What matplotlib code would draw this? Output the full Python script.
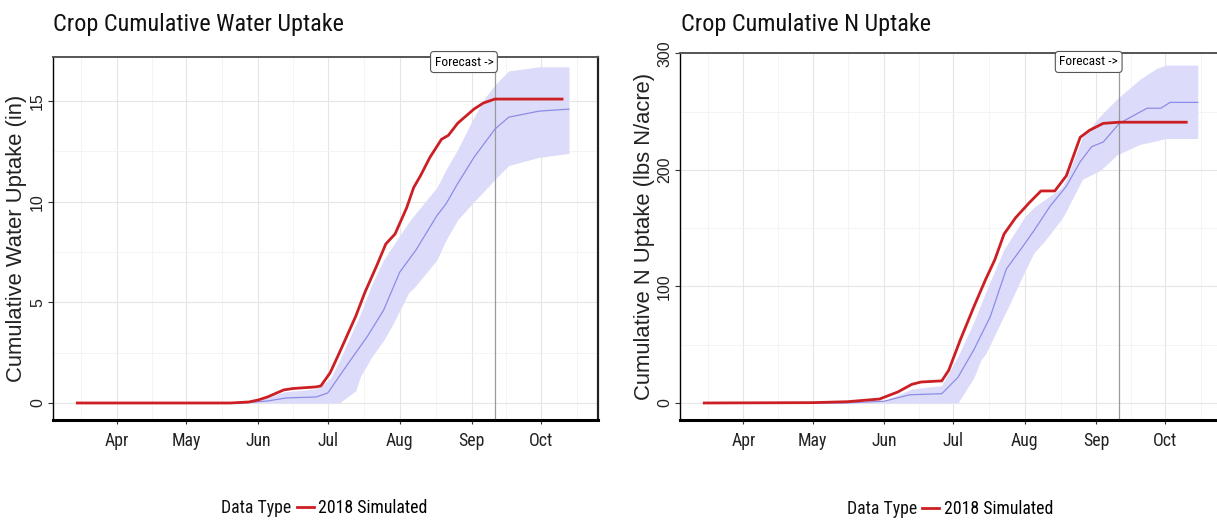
import matplotlib
matplotlib.use('Agg')
import matplotlib.pyplot as plt
import matplotlib.dates as mdates
from matplotlib import font_manager as fm
import pandas as pd

# ---- water uptake (in) ----
water_sim_dates = ['2018-03-15', '2018-05-20', '2018-05-28', '2018-06-01', '2018-06-05',
                   '2018-06-12', '2018-06-16', '2018-06-26', '2018-06-28', '2018-07-02',
                   '2018-07-06', '2018-07-13', '2018-07-17', '2018-07-22', '2018-07-26',
                   '2018-07-30', '2018-08-04', '2018-08-07', '2018-08-10', '2018-08-14',
                   '2018-08-19', '2018-08-22', '2018-08-26', '2018-09-02', '2018-09-06',
                   '2018-09-11', '2018-10-10']
water_sim = [0, 0, 0.05, 0.15, 0.3, 0.65, 0.72, 0.8, 0.85, 1.5, 2.5, 4.3, 5.5, 6.8, 7.9,
             8.4, 9.7, 10.7, 11.3, 12.2, 13.1, 13.3, 13.9, 14.6, 14.9, 15.1, 15.1]

water_mean_dates = ['2018-03-15', '2018-05-25', '2018-06-05', '2018-06-13', '2018-06-26',
                    '2018-07-01', '2018-07-10', '2018-07-18', '2018-07-25', '2018-08-01',
                    '2018-08-08', '2018-08-17', '2018-08-21', '2018-08-26', '2018-09-02',
                    '2018-09-11', '2018-09-17', '2018-09-30', '2018-10-13']
water_mean = [0, 0, 0.1, 0.25, 0.3, 0.5, 2.0, 3.3, 4.6, 6.5, 7.6, 9.3, 9.9, 10.9, 12.2,
              13.6, 14.2, 14.5, 14.6]

water_band_dates = ['2018-03-15', '2018-05-25', '2018-06-01', '2018-06-12', '2018-06-26',
                    '2018-07-02', '2018-07-06', '2018-07-13', '2018-07-15', '2018-07-20',
                    '2018-07-25', '2018-07-29', '2018-08-05', '2018-08-07', '2018-08-17',
                    '2018-08-21', '2018-08-26', '2018-09-02', '2018-09-07', '2018-09-11',
                    '2018-09-17', '2018-09-30', '2018-10-13']
water_lo = [0, 0, 0, 0, 0, 0, 0, 0.6, 1.3, 2.3, 3.1, 3.9, 5.5, 5.7, 7.1, 8.1, 9.1, 10.0,
            10.6, 11.1, 11.8, 12.2, 12.4]
water_hi = [0, 0, 0.1, 0.55, 0.7, 1.2, 2.1, 3.9, 4.4, 5.9, 7.1, 7.8, 9.0, 9.3, 10.7, 11.6,
            12.6, 14.2, 15.2, 15.8, 16.5, 16.7, 16.7]

# ---- N uptake (lbs N/acre) ----
n_sim_dates = ['2018-03-15', '2018-05-01', '2018-05-16', '2018-05-30', '2018-06-07',
               '2018-06-13', '2018-06-17', '2018-06-26', '2018-06-29', '2018-07-04',
               '2018-07-10', '2018-07-15', '2018-07-19', '2018-07-23', '2018-07-28',
               '2018-08-03', '2018-08-08', '2018-08-14', '2018-08-19', '2018-08-25',
               '2018-08-29', '2018-09-04', '2018-09-11', '2018-10-10']
n_sim = [0, 0.3, 1.1, 3.4, 9.5, 16, 18, 19, 28, 54, 83, 106, 123, 145, 159, 172, 182, 182,
         195, 228, 234, 240, 241, 241]

n_mean_dates = ['2018-03-15', '2018-05-15', '2018-06-01', '2018-06-12', '2018-06-26',
                '2018-07-03', '2018-07-10', '2018-07-17', '2018-07-24', '2018-07-31',
                '2018-08-05', '2018-08-12', '2018-08-19', '2018-08-25', '2018-08-30',
                '2018-09-04', '2018-09-11', '2018-09-23', '2018-09-29', '2018-10-03',
                '2018-10-15']
n_mean = [0, 0, 1.5, 7, 8, 22, 46, 74, 115, 134, 148, 169, 186, 207, 220, 224, 240, 253,
          253, 258, 258]

n_band_dates = ['2018-03-15', '2018-05-15', '2018-06-01', '2018-06-13', '2018-06-26',
                '2018-07-03', '2018-07-10', '2018-07-13', '2018-07-15', '2018-07-23',
                '2018-07-25', '2018-08-01', '2018-08-05', '2018-08-10', '2018-08-17',
                '2018-08-19', '2018-08-26', '2018-09-03', '2018-09-10', '2018-09-20',
                '2018-09-27', '2018-10-01', '2018-10-15']
n_lo = [0, 0, 0, 0, 0, 0, 22, 37, 42, 75, 83, 113, 129, 140, 158, 165, 192, 200, 213, 222,
        225, 227, 227]
n_hi = [0, 0, 2, 12, 15, 40, 70, 85, 95, 132, 138, 160, 168, 175, 185, 192, 228, 247, 261,
        278, 287, 290, 290]

forecast_date = '2018-09-11'
month_ticks = ['2018-04-01', '2018-05-01', '2018-06-01', '2018-07-01', '2018-08-01',
               '2018-09-01', '2018-10-01']
x_range = ['2018-03-04 12:00', '2018-10-25 12:00']

RED = '#cc1f24'
BLUE = '#8c8ce6'
BAND = '#dcdcfa'

# pick a narrow face for horizontal text if one is installed
_fonts = fm.fontManager.ttflist
_names = {f.name for f in _fonts}
NARROW_FP = None
for cand in ['Liberation Sans Narrow', 'Roboto Condensed', 'Open Sans Condensed',
             'DejaVu Sans Condensed', 'Arial Narrow']:
    if cand in _names:
        NARROW_FP = dict(family=cand)
        break
if NARROW_FP is None:
    cond = [f for f in _fonts if 'ondensed' in str(f.stretch) and 'Mono' not in f.name
            and f.style == 'normal' and f.weight in (400, 'normal', 'regular')]
    if cond:
        NARROW_FP = dict(fname=cond[0].fname)
if NARROW_FP is None:
    NARROW_FP = dict(family='Liberation Sans' if 'Liberation Sans' in _names else 'DejaVu Sans')
REGULAR = 'Liberation Sans' if 'Liberation Sans' in _names else 'DejaVu Sans'


def narrow(size):
    return fm.FontProperties(size=size, **NARROW_FP)


def draw_panel(ax, title, ylabel, sim, mean, band, yticks, ylim, label_y, title_x):
    dt = pd.to_datetime
    ax.fill_between(dt(band[0]), band[1], band[2], color=BAND, lw=0, zorder=1)
    ax.plot(dt(mean[0]), mean[1], color=BLUE, lw=0.9, zorder=2)
    line, = ax.plot(dt(sim[0]), sim[1], color=RED, lw=2.0, zorder=3)

    fc = pd.Timestamp(forecast_date)
    ax.axvline(fc, color='#9a9a9a', lw=0.9, zorder=1.5)
    ax.text(fc - pd.Timedelta(days=13.3), label_y, 'Forecast ->', fontproperties=narrow(9.6),
            ha='center', va='center', zorder=5,
            bbox=dict(boxstyle='round,pad=0.3,rounding_size=0.25', fc='white',
                      ec='#555555', lw=0.8))

    ticks = dt(month_ticks)
    ax.set_xticks(ticks)
    ax.xaxis.set_major_formatter(mdates.DateFormatter('%b'))
    # minor grid halfway between months (ggplot style)
    edges = [ticks[0] - pd.Timedelta(days=31)] + list(ticks) + [ticks[-1] + pd.Timedelta(days=31)]
    mids = [a + (b - a) / 2 for a, b in zip(edges[:-1], edges[1:])]
    ax.set_xticks(mids, minor=True)
    ax.set_yticks(yticks)
    step = yticks[1] - yticks[0]
    ax.set_yticks([v + step / 2 for v in yticks], minor=True)
    ax.set_xlim(dt(x_range))
    ax.set_ylim(*ylim)

    ax.grid(True, which='major', color='#e6e6e6', lw=0.8, zorder=0)
    ax.grid(True, which='minor', color='#f3f3f3', lw=0.6, zorder=0)
    ax.set_axisbelow(True)

    ax.tick_params(which='minor', length=0)
    ax.tick_params(axis='x', which='major', length=3, width=0.8, color='#333333', pad=5.5)
    ax.tick_params(axis='y', which='major', length=3.6, width=0.8, color='#333333',
                   pad=2, labelrotation=90)
    for lab in ax.get_xticklabels():
        lab.set_fontproperties(narrow(12.8))
        lab.set_color('#222222')
    for lab in ax.get_yticklabels():
        lab.set_family(REGULAR)
        lab.set_fontsize(11.5)
        lab.set_va('center')
        lab.set_color('#222222')

    ax.spines['bottom'].set_linewidth(2.2)
    ax.spines['bottom'].set_color('black')
    ax.spines['right'].set_linewidth(1.6)
    ax.spines['right'].set_color('#222222')
    ax.spines['top'].set_linewidth(1.4)
    ax.spines['top'].set_color('#555555')
    ax.spines['left'].set_linewidth(1.0)
    ax.spines['left'].set_color('black')

    ax.set_ylabel(ylabel, family=REGULAR, fontsize=15.8, color='#222222')
    ax.yaxis.set_label_coords(-0.047, 0.5)

    fig = ax.figure
    fig.text(title_x, 0.9405, title, fontproperties=narrow(17.4), va='baseline',
             ha='left', color='#111111')

    ax.legend([line], ['2018 Simulated'], loc='center left',
              bbox_to_anchor=(0.447, -0.242), frameon=False, borderpad=0,
              borderaxespad=0, handlelength=0.95, handletextpad=0.25,
              prop=narrow(12.8))
    ax.text(0.437, -0.242, 'Data Type', transform=ax.transAxes, ha='right',
            va='center', fontproperties=narrow(12.8), color='#111111')


fig = plt.figure(figsize=(12.17, 5.21), dpi=100)
ax1 = fig.add_axes([53 / 1217, 101 / 521, 545 / 1217, 363 / 521])
ax2 = fig.add_axes([680 / 1217, 101 / 521, 542 / 1217, 367 / 521])

draw_panel(ax1, 'Crop Cumulative Water Uptake', 'Cumulative Water Uptake (in)',
           (water_sim_dates, water_sim), (water_mean_dates, water_mean),
           (water_band_dates, water_lo, water_hi), [0, 5, 10, 15], (-0.845, 17.19),
           16.94, 53 / 1217)
draw_panel(ax2, 'Crop Cumulative N Uptake', 'Cumulative N Uptake (lbs N/acre)',
           (n_sim_dates, n_sim), (n_mean_dates, n_mean),
           (n_band_dates, n_lo, n_hi), [0, 100, 200, 300], (-14.6, 300.4),
           292.7, 681 / 1217)

fig.savefig('out.png', dpi=100)
plt.close(fig)
